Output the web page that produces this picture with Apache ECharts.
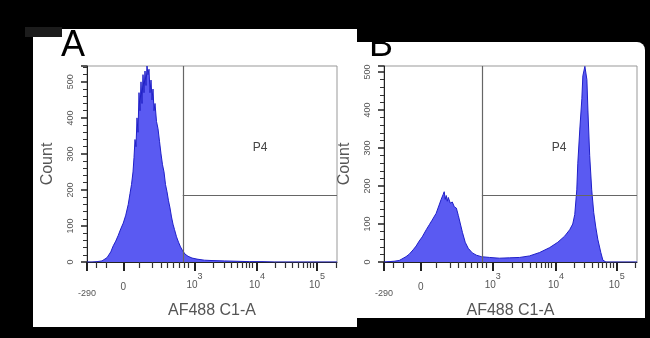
<!DOCTYPE html>
<html>
<head>
<meta charset="utf-8">
<script src="https://cdn.jsdelivr.net/npm/echarts@6.0.0/dist/echarts.min.js"></script>
<style>
  html, body { margin: 0; padding: 0; background: #000; }
  #chart { width: 650px; height: 338px; }
</style>
</head>
<body>
<div id="chart"></div>
<script>
// display channels 0..1000 on the biexponential AF488 axis
var xMajor = [0, 145, 430, 680, 920];
var xMajorLabels = ['-290', '0', '10^3', '10^4', '10^5'];
var xMinor = [35, 78, 208, 262, 295, 322, 346, 368, 388, 405,
              505, 548, 578, 600, 620, 636, 650, 662,
              752, 793, 822, 845, 864, 880, 894, 906, 995];

// panel A histogram
var chA = [0,20,40,60,80,95,105,115,125,135,145,155,165,172,178,184,188,192,196,200,
           204,208,212,216,220,224,228,232,236,240,244,248,252,256,260,264,268,272,278,284,
           290,296,302,308,314,320,326,332,338,344,350,358,366,374,382,392,404,420,440,470,
           500,550,600,650,700,750,1000];
var countA = [0,0,1,3,12,28,45,58,74,92,108,130,160,190,215,250,290,340,320,400,
              360,470,420,500,440,520,470,530,490,544,520,535,470,505,450,480,420,440,390,370,
              335,300,270,250,215,195,170,150,125,105,90,70,55,42,32,22,16,11,8,5,
              4,3,2,1,1,0,0];

// panel B histogram
var chB = [0,20,40,60,71,87,99,115,127,139,151,167,179,190,206,218,226,234,238,242,
           246,250,254,262,270,278,286,294,302,310,321,333,349,365,385,417,456,496,536,575,
           615,655,687,714,734,746,754,762,766,774,782,786,794,802,806,813,821,829,837,845,
           857,865,877,1000];
var countB = [0,1,2,4,8,14,20,32,42,55,66,85,98,110,128,150,165,178,185,165,
              175,160,170,155,158,145,142,122,100,78,52,36,24,18,14,12,10,11,12,16,
              25,38,52,68,85,100,125,190,260,350,430,490,515,480,400,280,190,130,92,60,
              25,5,0,0];

var yMax = [544, 516];
var gateX = [383, 387];
var gateY = [186, 176];
var p4X = [692, 692];
var p4Y = [317, 300];

var font = 'Liberation Sans, Arial, sans-serif';
var grids = [
    {left: 87, top: 66, width: 250, height: 196},
    {left: 384, top: 66, width: 253, height: 196}
];

var myChart = echarts.init(document.getElementById('chart'));

function xAxes(g) {
    return [{
        gridIndex: g, type: 'value', min: 0, max: 1000,
        name: 'AF488 C1-A', nameLocation: 'middle', nameGap: 36,
        nameTextStyle: {fontSize: 16, color: '#555', fontFamily: font},
        axisLine: {show: true, onZero: false, lineStyle: {color: '#222'}},
        axisTick: {show: true, length: 9, customValues: xMajor, lineStyle: {color: '#222', width: 2}},
        axisLabel: {
            customValues: xMajor, margin: 10, color: '#555', fontFamily: font,
            formatter: function (v) {
                var s = xMajorLabels[xMajor.indexOf(v)];
                if (s.indexOf('^') > 0) {
                    var p = s.split('^');
                    return '{n|' + p[0] + '}{s|' + p[1] + '}';
                }
                return s === '0' ? '{z|0}' : '{m|' + s + '}';
            },
            rich: {
                n: {fontSize: 10, color: '#555', verticalAlign: 'bottom'},
                s: {fontSize: 9, color: '#555', verticalAlign: 'top', padding: [0, 0, 9, 0]},
                z: {fontSize: 10, color: '#555', padding: [10, 0, 0, 0]},
                m: {fontSize: 9, color: '#555', padding: [17, 0, 0, 0]}
            }
        },
        splitLine: {show: false}
    }, {
        gridIndex: g, type: 'value', min: 0, max: 1000, position: 'bottom',
        axisLine: {show: false},
        axisTick: {show: true, length: 6, customValues: xMinor, lineStyle: {color: '#333', width: 1.2}},
        axisLabel: {show: false},
        splitLine: {show: false}
    }];
}

function yAxis(g) {
    return {
        gridIndex: g, type: 'value', min: 0, max: yMax[g], interval: 100,
        name: 'Count', nameLocation: 'middle', nameGap: 31, nameRotate: 90,
        nameTextStyle: {fontSize: 16, color: '#555', fontFamily: font},
        axisLine: {show: true, onZero: false, lineStyle: {color: '#222'}},
        axisTick: {show: true, length: 6, lineStyle: {color: '#222', width: 1.5}},
        minorTick: {show: true, splitNumber: 5, length: 4, lineStyle: {color: '#333'}},
        axisLabel: {rotate: 90, fontSize: 9, color: '#555', margin: 12, fontFamily: font, showMaxLabel: false},
        splitLine: {show: false}
    };
}

function histSeries(g, ch, counts) {
    return {
        type: 'line', xAxisIndex: g * 2, yAxisIndex: g,
        data: ch.map(function (c, i) { return [c, counts[i]]; }),
        showSymbol: false, symbol: 'none', silent: true,
        lineStyle: {color: '#2020c8', width: 1},
        areaStyle: {color: '#5a5af2', opacity: 1},
        markLine: {
            silent: true, symbol: 'none',
            lineStyle: {color: '#666', width: 1.2, type: 'solid'},
            label: {show: false},
            data: [
                [{coord: [gateX[g], 0]}, {coord: [gateX[g], yMax[g]]}],
                [{coord: [gateX[g], gateY[g]]}, {coord: [1000, gateY[g]]}]
            ]
        },
        markPoint: {
            silent: true, symbol: 'circle', symbolSize: 0,
            label: {show: true, position: 'inside', formatter: 'P4', fontSize: 12, color: '#444', fontFamily: font},
            data: [{coord: [p4X[g], p4Y[g]]}]
        }
    };
}

var option = {
    backgroundColor: '#000',
    animation: false,
    grid: grids.map(function (r) {
        return {left: r.left, top: r.top, width: r.width, height: r.height,
                show: true, borderColor: '#999', borderWidth: 1, backgroundColor: 'transparent'};
    }),
    xAxis: xAxes(0).concat(xAxes(1)),
    yAxis: [yAxis(0), yAxis(1)],
    series: [histSeries(0, chA, countA), histSeries(1, chB, countB)],
    graphic: [
        {type: 'rect', z: -10, shape: {x: 33, y: 29, width: 324, height: 298}, style: {fill: '#fff'}},
        {type: 'rect', z: -9, shape: {x: 25, y: 27, width: 37, height: 10}, style: {fill: '#1c1c1c'}},
        {type: 'rect', z: -9, shape: {x: 357, y: 42, width: 288, height: 276, r: [0, 8, 0, 0]}, style: {fill: '#fff'}},
        {type: 'text', z: -5, style: {text: 'A', x: 61, y: 28, fill: '#000', font: '36px Liberation Sans'}},
        {type: 'text', z: -5, style: {text: 'B', x: 369, y: 28, fill: '#000', font: '36px Liberation Sans'}}
    ]
};

myChart.setOption(option);
</script>
</body>
</html>
